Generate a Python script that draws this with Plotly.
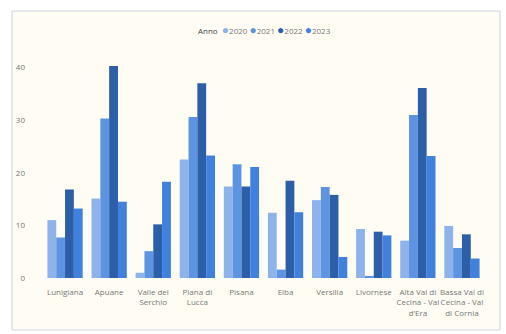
import plotly.graph_objects as go

categories = ["Lunigiana", "Apuane", "Valle del<br>Serchio", "Piana di<br>Lucca", "Pisana", "Elba",
              "Versilia", "Livornese", "Alta Val di<br>Cecina - Val<br>d'Era", "Bassa Val di<br>Cecina - Val<br>di Cornia"]
years = ["2020", "2021", "2022", "2023"]
v2020 = [11.0, 15.1, 1.0, 22.5, 17.4, 12.4, 14.8, 9.3, 7.1, 9.9]
v2021 = [7.7, 30.3, 5.1, 30.6, 21.6, 1.6, 17.3, 0.4, 31.0, 5.7]
v2022 = [16.8, 40.3, 10.2, 37.0, 17.4, 18.5, 15.8, 8.8, 36.1, 8.3]
v2023 = [13.2, 14.5, 18.3, 23.3, 21.1, 12.5, 4.0, 8.1, 23.2, 3.7]
colors = ["#8db3ea", "#5c94e2", "#2d5fa9", "#3f81dd"]

fig = go.Figure()
for name, vals, c in zip(years, [v2020, v2021, v2022, v2023], colors):
    fig.add_trace(go.Bar(x=categories, y=vals, name=name, marker_color=c,
                         marker_line_width=0, showlegend=False))

legend_text = "<span style='color:#444444'>Anno</span>  " + " ".join(
    f"<span style='color:{c};font-size:12px'>●</span>{y}" for y, c in zip(years, colors))

fig.update_layout(
    width=506, height=334,
    margin=dict(l=43, r=22, t=57, b=56),
    paper_bgcolor="white", plot_bgcolor="#fffdf3",
    barmode="group", bargap=0.2, bargroupgap=0,
    font=dict(family="Open Sans", size=8, color="#777777"),
    showlegend=False,
    annotations=[dict(text=legend_text, xref="paper", yref="paper", x=(264 - 43) / 441,
                      y=(278 - 29) / 221, xanchor="center", yanchor="middle", showarrow=False,
                      font=dict(size=8, color="#777777"))],
    xaxis=dict(showgrid=False, zeroline=False, showline=False, ticks="", tickangle=0,
               ticklabelstandoff=8, tickfont=dict(size=8, color="#777777")),
    yaxis=dict(range=[0, 42], tickvals=[0, 10, 20, 30, 40], showgrid=False, zeroline=False,
               showline=False, ticks="", ticklabelstandoff=17, tickfont=dict(size=8, color="#777777")),
    shapes=[dict(type="rect", xref="paper", yref="paper",
                 x0=(12 - 43) / 441, x1=(500 - 43) / 441,
                 y0=(278 - 330) / 221, y1=(278 - 11) / 221,
                 line=dict(color="#c9d3de", width=1), fillcolor="#fffdf3", layer="below")],
)
fig.write_html("out.html")
